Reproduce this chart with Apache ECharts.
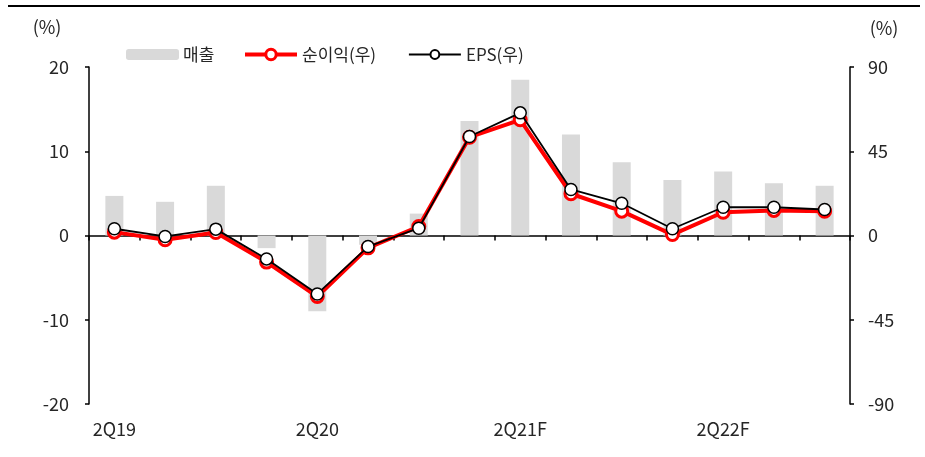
<!DOCTYPE html>
<html>
<head>
<meta charset="utf-8">
<script src="https://cdn.jsdelivr.net/npm/echarts@6/dist/echarts.min.js"></script>
<style>
html,body{margin:0;padding:0;background:#fff;}
#chart{width:925px;height:457px;}
</style>
</head>
<body>
<div id="chart"></div>
<script>
const categories = ['2Q19','3Q19','4Q19','1Q20','2Q20','3Q20','4Q20','1Q21','2Q21F','3Q21F','4Q21F','1Q22F','2Q22F','3Q22F','4Q22F'];
const sales = [4.7, 4.0, 5.9, -1.5, -9.0, -1.1, 2.6, 13.6, 18.5, 12.0, 8.7, 6.6, 7.6, 6.2, 5.9];
const netIncome = [1.8, -2.3, 1.6, -14.2, -32.6, -6.6, 4.8, 52.5, 61.8, 22.3, 13.0, 0.5, 12.4, 13.4, 13.0];
const eps = [3.6, -0.5, 3.4, -12.5, -31.2, -5.9, 3.9, 52.9, 65.5, 24.6, 17.2, 3.6, 15.1, 15.1, 13.9];
const leftTicks = {min: -20, max: 20, interval: 10};
const rightTicks = {min: -90, max: 90, interval: 45};

const FONT = '"Noto Sans CJK KR", "Noto Sans", sans-serif';
const TXT = '#262626';

const chart = echarts.init(document.getElementById('chart'), null, {renderer: 'canvas'});
chart.setOption({
  animation: false,
  textStyle: {fontFamily: FONT},
  grid: {left: 89, right: 75, top: 67, bottom: 53, containLabel: false},
  graphic: [
    {type: 'rect', shape: {x: 8, y: 5, width: 912, height: 2}, style: {fill: '#000'}},
    {type: 'text', x: 47, y: 27, style: {text: '(%)', font: '18px ' + FONT, fill: TXT, textAlign: 'center', textVerticalAlign: 'middle'}},
    {type: 'text', x: 884, y: 28, style: {text: '(%)', font: '18px ' + FONT, fill: TXT, textAlign: 'center', textVerticalAlign: 'middle'}}
  ],
  legend: [
    {data: ['매출'], left: 126, top: 46, padding: 0, itemWidth: 53, itemHeight: 11, itemGap: 0,
     textStyle: {fontSize: 17, color: TXT, fontFamily: FONT, padding: [0,0,0,-1]}},
    {data: ['순이익(우)'], left: 243, top: 46, padding: 0, itemWidth: 52, itemHeight: 13,
     lineStyle: {width: 4}, itemStyle: {borderWidth: 3},
     textStyle: {fontSize: 17, color: TXT, fontFamily: FONT, padding: [0,0,0,0]}},
    {data: ['EPS(우)'], left: 408, top: 46, padding: 0, itemWidth: 52, itemHeight: 11,
     lineStyle: {width: 1.8},
     textStyle: {fontSize: 17, color: TXT, fontFamily: FONT, padding: [0,0,0,0]}}
  ],
  xAxis: [
    {type: 'category', data: categories, position: 'bottom', boundaryGap: true,
     axisLine: {show: true, onZero: true, onZeroAxisIndex: 0, lineStyle: {color: '#000', width: 1.5}},
     axisTick: {show: true, inside: false, length: 5, lineStyle: {color: '#000', width: 1.5}, alignWithLabel: false, interval: 0},
     axisLabel: {show: false}, splitLine: {show: false}},
    {type: 'category', data: categories, position: 'bottom', boundaryGap: true,
     axisLine: {show: false, onZero: false}, axisTick: {show: false},
     axisLabel: {show: true, interval: 3, margin: 16, fontSize: 18, color: TXT, fontFamily: FONT},
     splitLine: {show: false}}
  ],
  yAxis: [
    {type: 'value', position: 'left', min: leftTicks.min, max: leftTicks.max, interval: leftTicks.interval,
     axisLine: {show: true, lineStyle: {color: '#000', width: 1.5}},
     axisTick: {show: true, length: 4, lineStyle: {color: '#000', width: 1.5}},
     axisLabel: {fontSize: 18, color: TXT, margin: 20, fontFamily: FONT},
     splitLine: {show: false}},
    {type: 'value', position: 'right', min: rightTicks.min, max: rightTicks.max, interval: rightTicks.interval,
     axisLine: {show: true, lineStyle: {color: '#000', width: 1.5}},
     axisTick: {show: true, length: 4, lineStyle: {color: '#000', width: 1.5}},
     axisLabel: {fontSize: 18, color: TXT, margin: 18, fontFamily: FONT},
     splitLine: {show: false}}
  ],
  series: [
    {name: '매출', type: 'bar', data: sales, xAxisIndex: 0, yAxisIndex: 0, barWidth: 18,
     itemStyle: {color: '#D9D9D9'}, z: 1},
    {name: '순이익(우)', type: 'line', data: netIncome, xAxisIndex: 0, yAxisIndex: 1,
     symbol: 'circle', symbolSize: 12, showAllSymbol: true,
     lineStyle: {color: '#FF0000', width: 4},
     itemStyle: {color: '#fff', borderColor: '#FF0000', borderWidth: 3}, z: 3},
    {name: 'EPS(우)', type: 'line', data: eps, xAxisIndex: 0, yAxisIndex: 1,
     symbol: 'circle', symbolSize: 12, showAllSymbol: true,
     lineStyle: {color: '#000', width: 1.8},
     itemStyle: {color: '#fff', borderColor: '#000', borderWidth: 1.5}, z: 4}
  ]
});
</script>
</body>
</html>
